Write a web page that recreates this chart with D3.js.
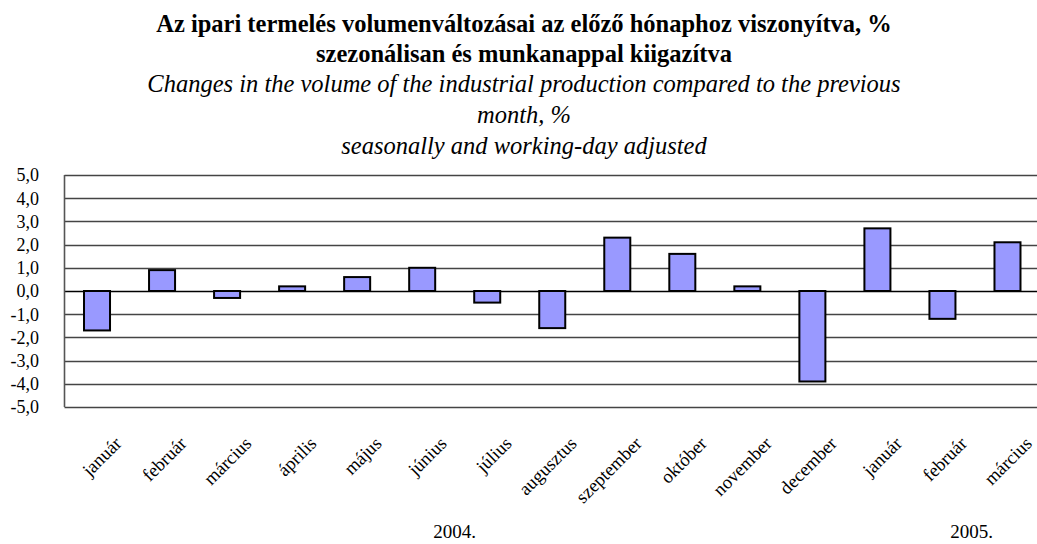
<!DOCTYPE html>
<html>
<head>
<meta charset="utf-8">
<script src="https://d3js.org/d3.v7.min.js"></script>
<style>
  body { margin: 0; background: #fff; }
  text { font-family: "Liberation Serif", "Times New Roman", serif; fill: #000; }
</style>
</head>
<body>
<script>
  // months (2004 jan .. 2005 march)
  var months = ["január", "február", "március", "április", "május", "június", "július",
                "augusztus", "szeptember", "október", "november", "december",
                "január", "február", "március"];
  var values = [-1.7, 0.9, -0.3, 0.2, 0.6, 1.0, -0.5, -1.6, 2.3, 1.6, 0.2, -3.9, 2.7, -1.2, 2.1];
  var yTicks = [5, 4, 3, 2, 1, 0, -1, -2, -3, -4, -5];
  // year labels sit under these month indexes
  var years = [{label: "2004.", at: 5.5}, {label: "2005.", at: 13.45}];
  var titleLines = [
    {text: "Az ipari termelés volumenváltozásai az előző hónaphoz viszonyítva, %", bold: true},
    {text: "szezonálisan és munkanappal kiigazítva", bold: true},
    {text: "Changes in the volume of the industrial production compared to the previous", italic: true},
    {text: "month, %", italic: true},
    {text: "seasonally and working-day adjusted", italic: true}
  ];

  var width = 1037, height = 544;
  var plotLeft = 64.5, plotRight = 1040, plotTop = 175, plotBottom = 407;

  var svg = d3.select("body").append("svg")
    .attr("width", width)
    .attr("height", height);

  // title
  var titleY = [32, 62, 92, 123, 154];
  svg.selectAll("text.title")
    .data(titleLines)
    .enter()
    .append("text")
    .attr("class", "title")
    .attr("x", 524)
    .attr("y", function(d, i) { return titleY[i]; })
    .attr("text-anchor", "middle")
    .style("font-size", "24.5px")
    .style("font-weight", function(d) { return d.bold ? "bold" : "normal"; })
    .style("font-style", function(d) { return d.italic ? "italic" : "normal"; })
    .text(function(d) { return d.text; });

  var x = d3.scaleBand()
    .domain(d3.range(months.length))
    .range([plotLeft, plotRight])
    .paddingInner(0.6)
    .paddingOuter(0.3);

  var y = d3.scaleLinear()
    .domain([-5, 5])
    .range([plotBottom, plotTop]);

  // gridlines
  svg.append("g")
    .selectAll("line")
    .data(yTicks)
    .enter()
    .append("line")
    .attr("x1", plotLeft)
    .attr("x2", plotRight)
    .attr("y1", function(d) { return Math.round(y(d)) + 0.5; })
    .attr("y2", function(d) { return Math.round(y(d)) + 0.5; })
    .style("stroke", function(d) { return d === 0 ? "#000" : "#444"; })
    .style("stroke-width", 1.6);

  // left border
  svg.append("line")
    .attr("x1", plotLeft).attr("x2", plotLeft)
    .attr("y1", y(5)).attr("y2", y(-5))
    .style("stroke", "#555")
    .style("stroke-width", 1.6);

  // y tick labels
  svg.append("g")
    .selectAll("text")
    .data(yTicks)
    .enter()
    .append("text")
    .attr("x", 39)
    .attr("y", function(d) { return y(d); })
    .attr("dy", "0.35em")
    .attr("text-anchor", "end")
    .style("font-size", "18px")
    .text(function(d) { return d3.format(".1f")(d).replace(".", ",").replace("−", "-"); });

  // bars
  svg.append("g")
    .selectAll("rect")
    .data(values)
    .enter()
    .append("rect")
    .attr("x", function(d, i) { return x(i); })
    .attr("width", x.bandwidth())
    .attr("y", function(d) { return y(Math.max(0, d)); })
    .attr("height", function(d) { return Math.abs(y(d) - y(0)); })
    .style("fill", "#9999ff")
    .style("stroke", "#000")
    .style("stroke-width", 2);

  // month labels, rotated
  svg.append("g")
    .selectAll("text")
    .data(months)
    .enter()
    .append("text")
    .attr("transform", function(d, i) {
      return "translate(" + (x(i) + x.bandwidth() / 2 + 21) + ",440) rotate(-45)";
    })
    .attr("text-anchor", "end")
    .attr("dy", "0.35em")
    .style("font-size", "18.5px")
    .text(function(d) { return d; });

  // year labels
  var step = x.step();
  svg.append("g")
    .selectAll("text")
    .data(years)
    .enter()
    .append("text")
    .attr("x", function(d) { return x(0) + x.bandwidth() / 2 + d.at * step; })
    .attr("y", 538)
    .attr("text-anchor", "middle")
    .style("font-size", "19px")
    .text(function(d) { return d.label; });
</script>
</body>
</html>
